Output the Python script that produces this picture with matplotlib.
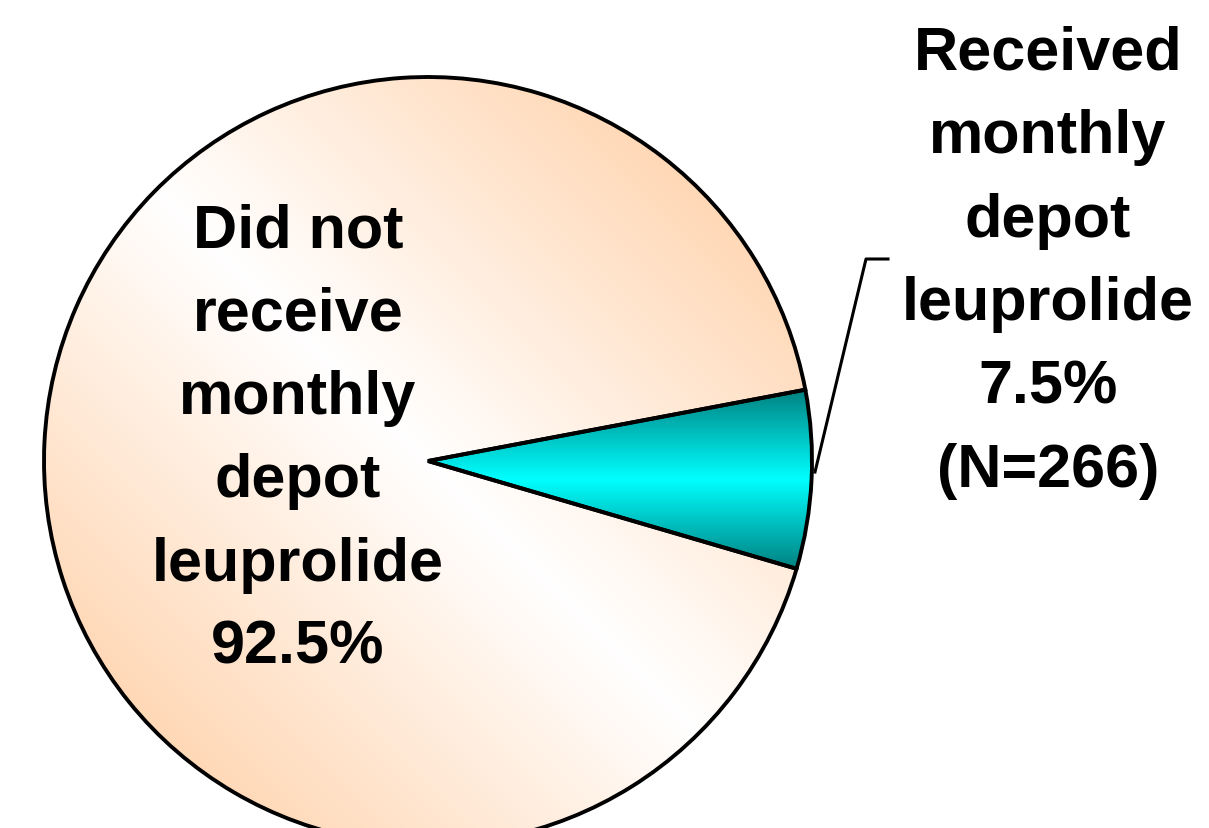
import numpy as np
import matplotlib
matplotlib.use('Agg')
import matplotlib.pyplot as plt

# data
labels = ['Received\nmonthly\ndepot\nleuprolide\n7.5%\n(N=266)',
          'Did not\nreceive\nmonthly\ndepot\nleuprolide\n92.5%']
shares = [7.5, 92.5]

W, H = 1209, 829
fig = plt.figure(figsize=(W / 100, H / 100), dpi=100)
ax = fig.add_axes([0, 0, 1, 1])

cx, cy, r = 428, H - 462, 384
wedges, _ = ax.pie(shares, startangle=-16.3, center=(cx, cy), radius=r,
                   wedgeprops=dict(facecolor='none', edgecolor='black', linewidth=2.8),
                   frame=True)
for w in wedges:
    w.set_zorder(3)

# peach/white mirrored diagonal gradient for the big slice
n = 400
xs = np.linspace(-1, 1, n)
X, Y = np.meshgrid(xs, xs)
t = np.clip(np.abs(X + Y) / np.sqrt(2), 0, 1)[..., None]
peach = np.array([255, 216, 182]) / 255
white = np.array([1.0, 1.0, 1.0])
img = white * (1 - t) + peach * t
im = ax.imshow(img, extent=(cx - r, cx + r, cy - r, cy + r), origin='lower',
               interpolation='bilinear', zorder=1)
im.set_clip_path(wedges[1])

# cyan/teal vertical gradient for the small slice
bb = wedges[0].get_path().get_extents(wedges[0].get_transform() - ax.transData)
y0, y1 = bb.y0, bb.y1
s = np.abs(np.linspace(-1, 1, n))[:, None, None] * np.ones((n, 2, 1))
cyan = np.array([0, 255, 255]) / 255
teal = np.array([0, 128, 128]) / 255
img2 = cyan * (1 - s) + teal * s
im2 = ax.imshow(img2, extent=(cx, cx + r + 5, y0, y1), origin='lower',
                interpolation='bilinear', zorder=1, aspect='auto')
im2.set_clip_path(wedges[0])

# leader line
ax.plot([815, 866, 888], [H - 473, H - 260, H - 260], color='black', lw=2.2, zorder=4)

font = dict(family='Liberation Sans', weight='bold', fontsize=44,
            ha='center', va='center', multialignment='center', linespacing=1.6)
ax.text(298, H - 440, labels[1], zorder=5, **font)
ax.text(1048, H - 263, labels[0], zorder=5, **font)

ax.set_xlim(0, W)
ax.set_ylim(0, H)
ax.set_aspect('equal')
ax.axis('off')
fig.savefig('out.png', dpi=100)
